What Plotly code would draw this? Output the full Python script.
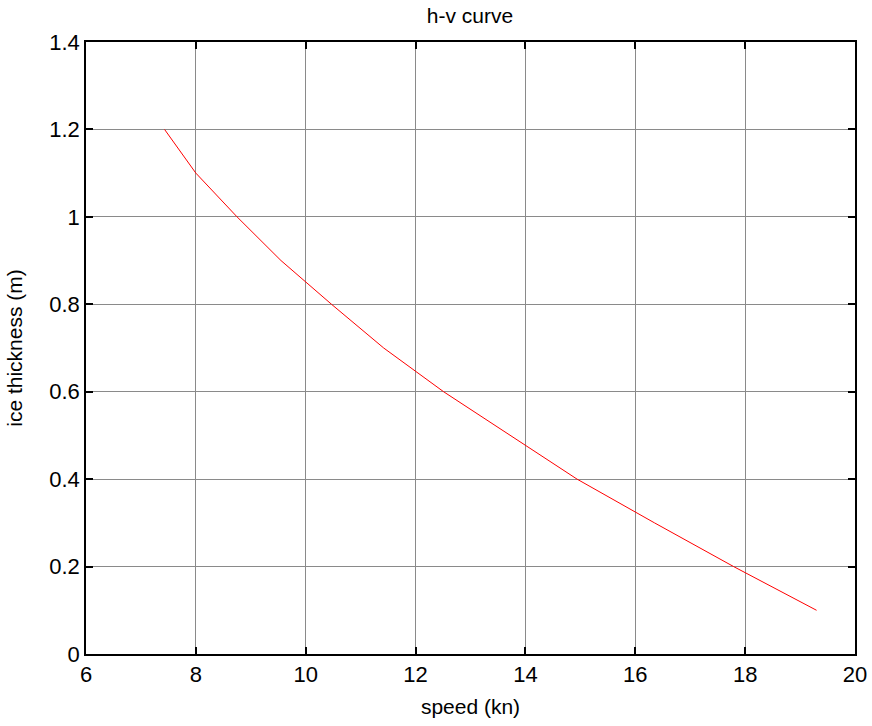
import plotly.graph_objects as go

speed = [7.43, 8.0, 8.75, 9.55, 10.47, 11.42, 12.51, 13.72, 14.94, 16.35, 17.79, 19.30]
thickness = [1.2, 1.1, 1.0, 0.9, 0.8, 0.7, 0.6, 0.5, 0.4, 0.3, 0.2, 0.1]
x_ticks = [6, 8, 10, 12, 14, 16, 18, 20]
y_ticks = [0, 0.2, 0.4, 0.6, 0.8, 1.0, 1.2, 1.4]
y_tick_text = ["0", "0.2", "0.4", "0.6", "0.8", "1", "1.2", "1.4"]

FONT = "Liberation Sans, Arial, sans-serif"

fig = go.Figure()
fig.add_trace(go.Scatter(x=speed, y=thickness, mode="lines",
                         line=dict(color="#ff0000", width=1), showlegend=False))

axis_common = dict(showline=True, linecolor="black", linewidth=1.5, mirror="ticks",
                   ticks="inside", ticklen=7, tickcolor="black", tickwidth=1.5,
                   showgrid=True, gridcolor="#8a8a8a", gridwidth=1, zeroline=False,
                   automargin=False,
                   tickfont=dict(family=FONT, size=22, color="black"))

fig.update_xaxes(range=[6, 20], tickvals=x_ticks,
                 title=dict(text="speed (kn)", font=dict(family=FONT, size=21, color="black"), standoff=13),
                 **axis_common)
fig.update_yaxes(range=[0, 1.4], tickvals=y_ticks, ticktext=y_tick_text,
                 title=dict(text="ice thickness (m)", font=dict(family=FONT, size=21, color="black"), standoff=21),
                 **axis_common)

fig.update_layout(width=872, height=726,
                  margin=dict(l=86, r=17, t=42, b=72),
                  paper_bgcolor="white", plot_bgcolor="white",
                  title=dict(text="h-v curve", x=470 / 872, xanchor="center", xref="container",
                             y=1 - 15.5 / 726, yanchor="middle", yref="container",
                             font=dict(family=FONT, size=21, color="black")))

fig.write_html("out.html", config={"displayModeBar": False},
               post_script="document.body.style.margin='0';document.body.style.overflow='hidden';")
